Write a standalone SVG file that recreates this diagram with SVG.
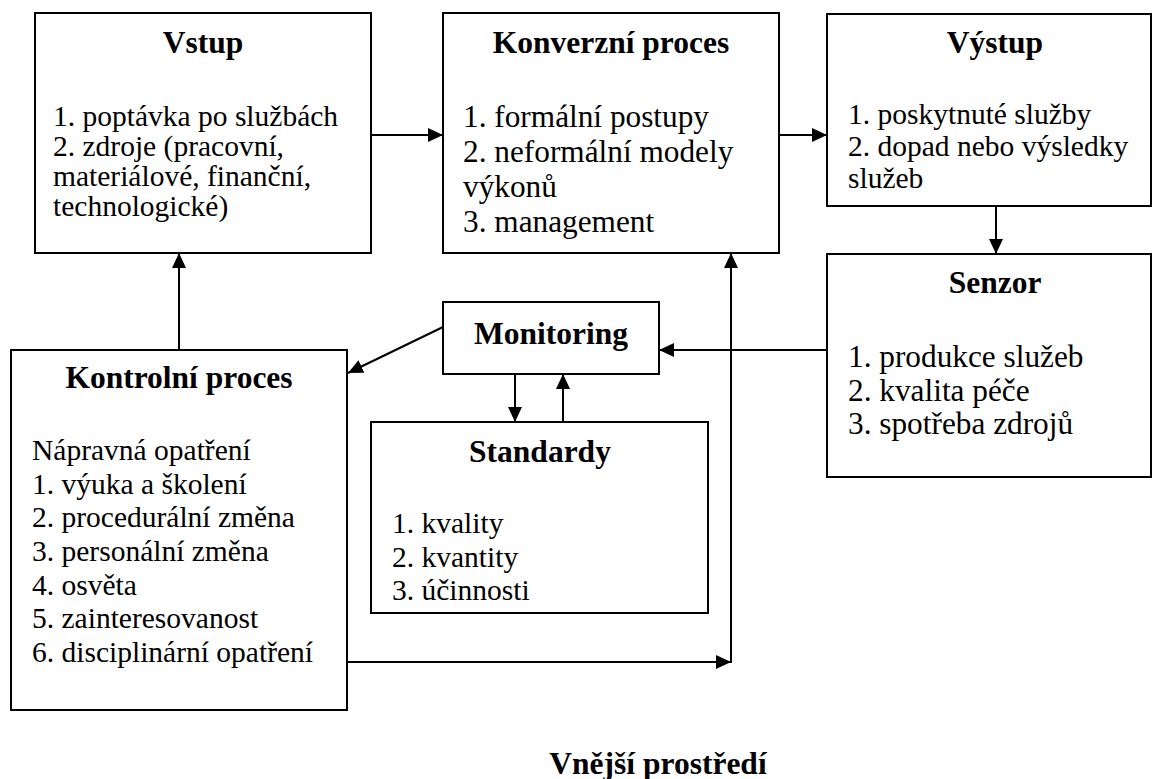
<svg xmlns="http://www.w3.org/2000/svg" width="1152" height="779" viewBox="0 0 1152 779">
  <style>
    .box { fill: #ffffff; stroke: #000000; stroke-width: 2; }
    .title { font-family: "Liberation Serif", "Times New Roman", "DejaVu Serif", serif; font-weight: bold; font-size: 31.5px; text-anchor: middle; fill: #000000; }
    .body { font-family: "Liberation Serif", "Times New Roman", "DejaVu Serif", serif; font-size: 29.5px; fill: #000000; }
    .large { font-size: 31.3px; }
    .link { fill: none; stroke: #000000; stroke-width: 2; }
  </style>
  <defs>
    <marker id="arrow" markerUnits="userSpaceOnUse" markerWidth="16" markerHeight="14" refX="15" refY="7" orient="auto">
      <path d="M0,0 L15,7 L0,14 Z" fill="#000000"/>
    </marker>
  </defs>
  <rect width="1152" height="779" fill="#ffffff"/>

  <g id="vstup">
    <rect class="box" x="35" y="13" width="336" height="240"/>
    <text class="title" x="203" y="53">Vstup</text>
    <text class="body" x="53" y="126">1. poptávka po službách</text>
    <text class="body" x="53" y="156">2. zdroje (pracovní,</text>
    <text class="body" x="53" y="186">materiálové, finanční,</text>
    <text class="body" x="53" y="216">technologické)</text>
  </g>

  <g id="konverzni-proces">
    <rect class="box" x="443" y="13" width="336" height="240"/>
    <text class="title" x="611" y="53">Konverzní proces</text>
    <text class="body large" x="463" y="127">1. formální postupy</text>
    <text class="body large" x="463" y="162">2. neformální modely</text>
    <text class="body large" x="463" y="197">výkonů</text>
    <text class="body large" x="463" y="232">3. management</text>
  </g>

  <g id="vystup">
    <rect class="box" x="827" y="14" width="324" height="192"/>
    <text class="title" x="995" y="53">Výstup</text>
    <text class="body" x="848" y="124">1. poskytnuté služby</text>
    <text class="body" x="848" y="156">2. dopad nebo výsledky</text>
    <text class="body" x="848" y="188">služeb</text>
  </g>

  <g id="senzor">
    <rect class="box" x="827" y="254" width="324" height="223"/>
    <text class="title" x="995" y="293">Senzor</text>
    <text class="body large" x="848" y="367">1. produkce služeb</text>
    <text class="body large" x="848" y="401">2. kvalita péče</text>
    <text class="body large" x="848" y="434">3. spotřeba zdrojů</text>
  </g>

  <g id="monitoring">
    <rect class="box" x="443" y="302" width="216" height="72"/>
    <text class="title" x="551" y="344">Monitoring</text>
  </g>

  <g id="standardy">
    <rect class="box" x="371" y="422" width="337" height="191"/>
    <text class="title" x="540" y="462">Standardy</text>
    <text class="body" x="392" y="533">1. kvality</text>
    <text class="body" x="392" y="567">2. kvantity</text>
    <text class="body" x="392" y="600">3. účinnosti</text>
  </g>

  <g id="kontrolni-proces">
    <rect class="box" x="11" y="350" width="336" height="360"/>
    <text class="title" x="179" y="388">Kontrolní proces</text>
    <text class="body" x="32" y="460">Nápravná opatření</text>
    <text class="body" x="32" y="494">1. výuka a školení</text>
    <text class="body" x="32" y="527">2. procedurální změna</text>
    <text class="body" x="32" y="561">3. personální změna</text>
    <text class="body" x="32" y="595">4. osvěta</text>
    <text class="body" x="32" y="628">5. zainteresovanost</text>
    <text class="body" x="32" y="662">6. disciplinární opatření</text>
  </g>

  <g id="vnejsi-prostredi">
    <text class="title" x="658" y="774">Vnější prostředí</text>
  </g>

  <g id="connectors">
    <line class="link" x1="371" y1="135" x2="443" y2="135" marker-end="url(#arrow)"/>
    <line class="link" x1="779" y1="135" x2="827" y2="135" marker-end="url(#arrow)"/>
    <line class="link" x1="996" y1="206" x2="996" y2="254" marker-end="url(#arrow)"/>
    <line class="link" x1="827" y1="350" x2="659" y2="350" marker-end="url(#arrow)"/>
    <line class="link" x1="443" y1="327" x2="348" y2="373" marker-end="url(#arrow)"/>
    <line class="link" x1="515" y1="374" x2="515" y2="422" marker-end="url(#arrow)"/>
    <line class="link" x1="563" y1="422" x2="563" y2="374" marker-end="url(#arrow)"/>
    <line class="link" x1="179" y1="350" x2="179" y2="253" marker-end="url(#arrow)"/>
    <line class="link" x1="347" y1="662" x2="731" y2="662" marker-end="url(#arrow)"/>
    <line class="link" x1="731" y1="663" x2="731" y2="253" marker-end="url(#arrow)"/>
  </g>
</svg>
